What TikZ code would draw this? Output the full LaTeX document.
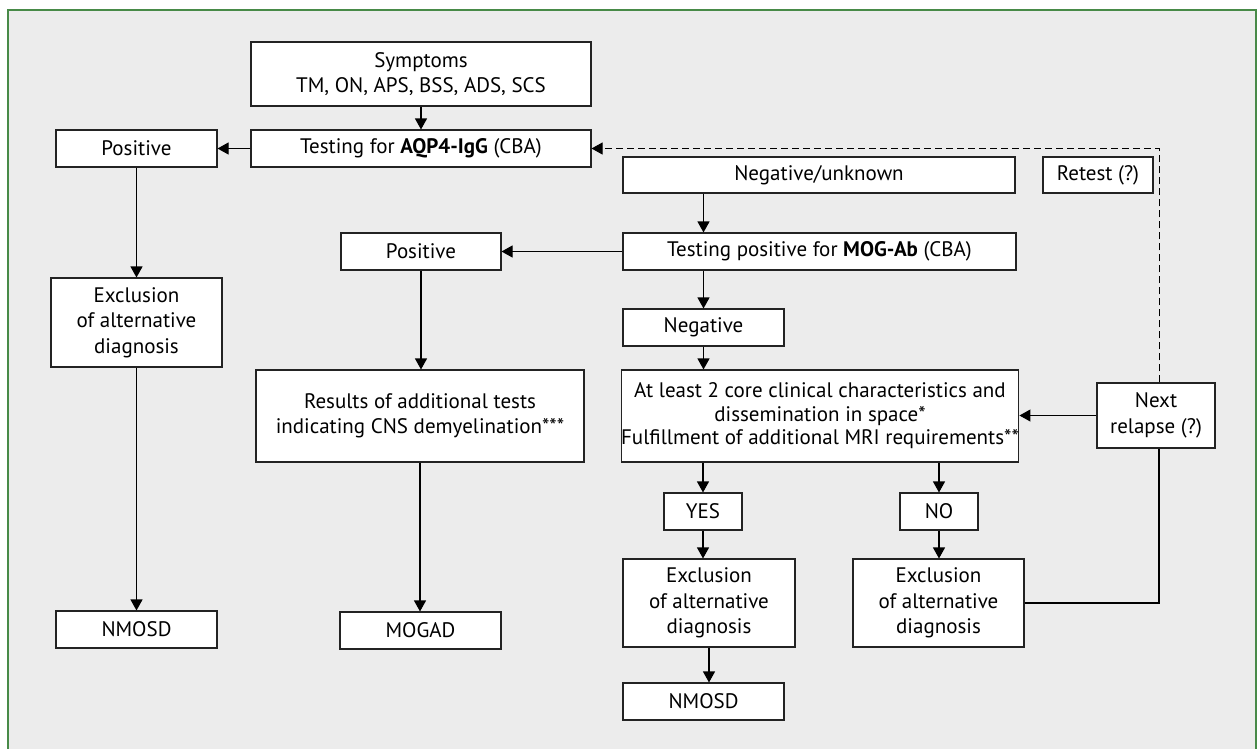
\documentclass[tikz,border=0pt]{standalone}
\usepackage{fontspec}
\setmainfont{PT Sans}
\usetikzlibrary{arrows.meta}
\definecolor{framegreen}{RGB}{72,138,72}
\definecolor{bggray}{RGB}{236,236,236}
\definecolor{boxline}{RGB}{35,35,35}
\tikzset{
  box/.style={draw=boxline, fill=white, line width=1.1pt, inner sep=0pt, align=center,
    font=\fontsize{21}{25.5}\selectfont},
  arr/.style={draw=black, line width=1.1pt, -{Triangle[length=11pt,width=12pt]}},
  conn/.style={draw=black, line width=1.1pt},
  dashline/.style={draw=black, line width=0.9pt, dash pattern=on 7pt off 4pt, -{Triangle[length=11pt,width=12pt]}}
}
\begin{document}
\begin{tikzpicture}[x=1pt,y=-1pt]
\useasboundingbox (0,0) rectangle (1258,748);
\fill[white] (0,0) rectangle (1258,748);
\draw[framegreen, line width=1.5pt, fill=bggray] (8,10) rectangle (1256,770);

% nodes
\node[box, minimum width=340pt, minimum height=64pt] (sym) at (421,74) {Symptoms\\TM, ON, APS, BSS, ADS, SCS};
\node[box, minimum width=340pt, minimum height=37pt] (aqp) at (421,148.5) {Testing for \textbf{AQP4-IgG} (CBA)};
\node[box, minimum width=161pt, minimum height=37pt] (pos1) at (136.5,148.5) {Positive};
\node[box, minimum width=171pt, minimum height=89pt] (excl1) at (136.5,322.5) {Exclusion\\of alternative\\diagnosis};
\node[box, minimum width=161pt, minimum height=37pt] (nm1) at (136.5,629.5) {NMOSD};

\node[box, minimum width=392pt, minimum height=36pt] (negunk) at (819,175) {Negative/unknown};
\node[box, minimum width=110pt, minimum height=36pt] (retest) at (1098,175) {Retest (?)};
\node[box, minimum width=393pt, minimum height=37pt] (mog) at (819.5,251.5) {Testing positive for \textbf{MOG-Ab} (CBA)};
\node[box, minimum width=160pt, minimum height=37pt] (pos2) at (421,251.5) {Positive};
\node[box, minimum width=161pt, minimum height=37pt] (neg) at (703.5,327.5) {Negative};

\node[box, minimum width=392pt, minimum height=92pt, font=\fontsize{21}{23.5}\selectfont] (atl) at (820,416) {At least 2 core clinical characteristics and\\dissemination in space*\\Fulfillment of additional MRI requirements**};
\node[box, minimum width=328pt, minimum height=92pt] (res) at (420,416) {Results of additional tests\\indicating CNS demyelination***};
\node[box, minimum width=118pt, minimum height=65pt] (next) at (1156,415.5) {Next\\relapse (?)};
\coordinate (nx) at (1159,0);

\node[box, minimum width=78pt, minimum height=37pt] (yes) at (703,511.5) {YES};
\node[box, minimum width=78pt, minimum height=37pt] (no) at (939,511.5) {NO};
\node[box, minimum width=172pt, minimum height=88pt] (excly) at (709,603) {Exclusion\\of alternative\\diagnosis};
\node[box, minimum width=171pt, minimum height=88pt] (excln) at (938.5,603) {Exclusion\\of alternative\\diagnosis};
\node[box, minimum width=161pt, minimum height=37pt] (nm2) at (703.5,701.5) {NMOSD};
\node[box, minimum width=161pt, minimum height=37pt] (mogad) at (420.5,630.5) {MOGAD};

% connectors
\draw[arr] (sym.south) -- (aqp.north);
\draw[arr] (aqp.west) -- (pos1.east);
\draw[arr] (pos1.south) -- (excl1.north);
\draw[arr] (excl1.south) -- (nm1.north);

\draw[arr] (neg.north |- negunk.south) -- (neg.north |- mog.north);
\draw[arr] (neg.north |- mog.south) -- (neg.north);
\draw[arr] (mog.west) -- (mog.west -| pos2.east);
\draw[arr] (pos2.south) -- (pos2.south |- res.north);
\draw[arr] (res.south) -- (res.south |- mogad.north);

\draw[arr] (neg.south) -- (neg.south |- atl.north);
\draw[arr] (yes.north |- atl.south) -- (yes.north);
\draw[arr] (no.north |- atl.south) -- (no.north);
\draw[arr] (yes.south) -- (yes.south |- excly.north);
\draw[arr] (no.south) -- (no.south |- excln.north);
\draw[arr] (excly.south) -- (excly.south |- nm2.north);

\draw[arr] (next.west) -- (next.west -| atl.east);
\draw[conn] (excln.east) -| (nx |- next.south);
\draw[dashline] (nx |- next.north) |- (aqp.east);
\end{tikzpicture}
\end{document}
